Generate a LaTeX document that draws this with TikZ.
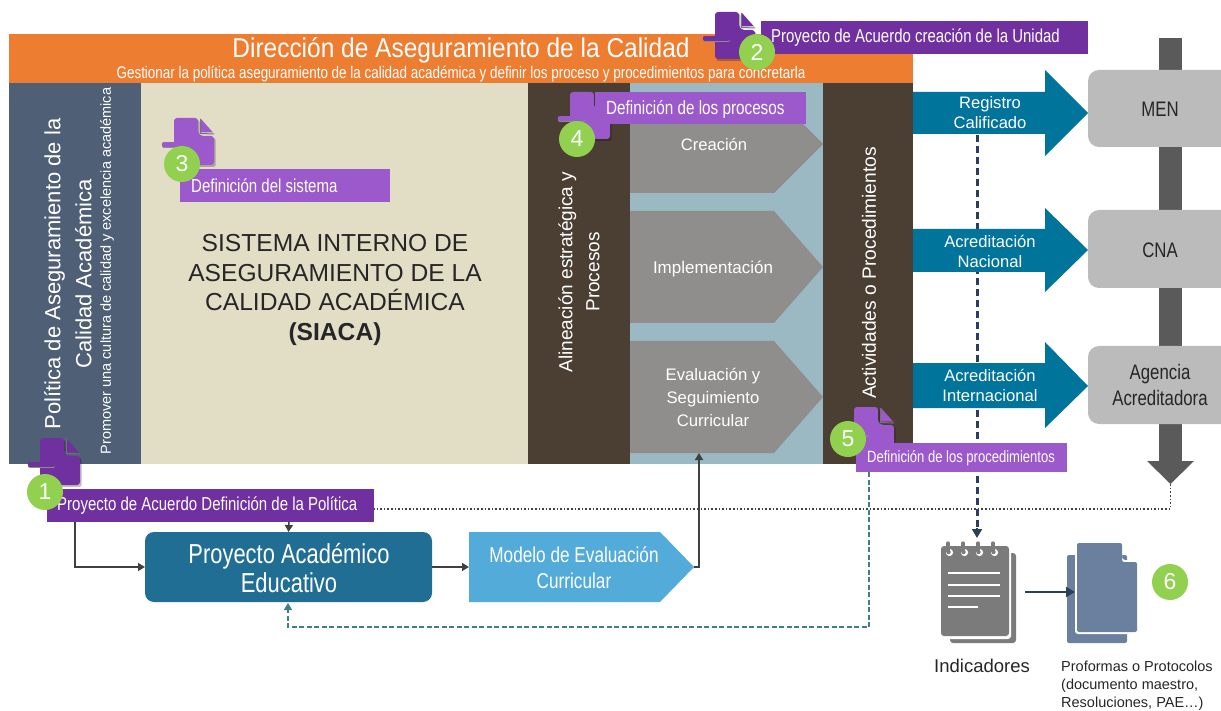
\documentclass[tikz,border=0pt]{standalone}
\usepackage{fontspec}
\setmainfont{Liberation Sans}
\newfontfamily\cond[FakeStretch=0.80]{Liberation Sans}
\newfontfamily\condb[FakeStretch=0.90]{Liberation Sans}
\usetikzlibrary{arrows.meta,calc}
\definecolor{corange}{HTML}{ED7D31}
\definecolor{cslate}{HTML}{4F5F75}
\definecolor{cbeige}{HTML}{E2DEC6}
\definecolor{cbrown}{HTML}{4B3F33}
\definecolor{clblue}{HTML}{9AB9C3}
\definecolor{cchev}{HTML}{908D8D}
\definecolor{cteal}{HTML}{00749A}
\definecolor{cgbox}{HTML}{BBBBBB}
\definecolor{cdgray}{HTML}{5A5A5A}
\definecolor{cpae}{HTML}{216E94}
\definecolor{cmod}{HTML}{52ABD8}
\definecolor{cdpur}{HTML}{7030A0}
\definecolor{clpur}{HTML}{9B59CC}
\definecolor{cgreen}{HTML}{92D050}
\definecolor{cdocb}{HTML}{6B7F9E}
\definecolor{cnote}{HTML}{7B7B7B}
\definecolor{cnavy}{HTML}{2C3E5A}
\definecolor{cline}{HTML}{404040}
\definecolor{cdteal}{HTML}{3F7F86}
\newcommand{\pxbox}[7][]{\node[#6,inner sep=0pt,outer sep=0pt,minimum width={#4-#2},minimum height={#5-#3},#1] (#7) at ({(#2+#4)/2},{(#3+#5)/2}) {};}
\newcommand{\fs}[1]{\fontsize{#1}{#1}\selectfont}
\tikzset{
  x=1pt,y=-1pt,
  band/.style={fill=#1,draw=none},
  lbl/.style={text=white,inner sep=0pt,align=center},
  plain/.style={text=black!85,inner sep=0pt,align=center},
  numdot/.style={circle,fill=cgreen,minimum size=36pt,inner sep=0pt,text=white,font=\fs{23}},
  conn/.style={draw=cline,line width=1.5pt,-{Triangle[length=7pt,width=8pt]}},
  dotline/.style={draw=cline,line width=1.6pt,dotted},
  dashteal/.style={draw=cdteal,line width=1.5pt,dash pattern=on 5pt off 2.5pt,-{Triangle[length=7pt,width=8pt]}},
  dashnavy/.style={draw=cnavy,line width=3pt,dash pattern=on 7pt off 4pt},
  docicon/.pic={
    \fill[black,opacity=.25,shift={(1.5,2)},rounded corners=2pt] (0,0)--(24,0)--(24,18)--(40,18)--(40,47)--(0,47)--cycle;
    \fill[#1,rounded corners=3pt] (0,0)--(24,0)--(24,15)--(27,18)--(40,18)--(40,47)--(0,47)--cycle;
    \draw[black!55,line width=1pt] (26.5,1)--(26.5,15.5)--(40,16);
    \fill[#1] (27,1)--(39,14.5)--(27,14.5)--cycle;
    \draw[black!45,line width=4pt,line cap=round] (-10,28)--(13,28);
    \draw[#1,line width=4.5pt,line cap=round] (-10,26.5)--(13,26.5);
  },
}
\begin{document}
\begin{tikzpicture}
\useasboundingbox (0,0) rectangle (1221,711);
\fill[white] (0,0) rectangle (1221,711);

% connectors lying under everything
\coordinate (dashtop) at (977,135);
\coordinate (notetop) at (977,538);
\draw[dashnavy] (dashtop)--(977,530);
\draw[draw=cnavy,-{Triangle[length=9pt,width=10pt]},line width=2pt] (977,528)--(notetop);

% vertical bar
\coordinate (bartop) at (1170.5,38);
\coordinate (barend) at (1170.5,461);
\coordinate (bartip) at (1170.5,484);
\fill[cdgray] (1159,38) rectangle (1182,462);
\fill[cdgray] (1147,461)--(1194,461)--(bartip)--cycle;

% main panels
\pxbox{9}{34}{913}{83}{band=corange}{head}
\pxbox{9}{83}{141}{464}{band=cslate}{polbox}
\pxbox{141}{83}{528}{464}{band=cbeige}{siaca}
\pxbox{528}{83}{630}{464}{band=cbrown}{aline}
\pxbox{630}{83}{823}{464}{band=clblue}{procs}
\pxbox{823}{83}{913}{464}{band=cbrown}{activ}

\node[lbl,font=\condb\fs{27.2}] (headt) at (461,50) {Dirección de Aseguramiento de la Calidad};
\node[lbl,font=\cond\fs{16.8}] (heads) at (461,74) {Gestionar la política aseguramiento de la calidad académica y definir los proceso y procedimientos para  concretarla};

\node[lbl,rotate=90,font=\fontsize{22}{31}\selectfont] (polt) at (68,274) {Política de Aseguramiento de la\\Calidad Académica};
\node[lbl,rotate=90,font=\fs{14.5}] (pols) at (107,271) {Promover una cultura de calidad y excelencia académica};

\node[plain,font=\fontsize{24.6}{29.7}\selectfont] (siacat) at (335,290) {SISTEMA INTERNO DE\\ASEGURAMIENTO DE LA\\CALIDAD ACADÉMICA\\\textbf{(SIACA)}};

\node[lbl,rotate=90,font=\fontsize{19}{27}\selectfont] (alinet) at (579,272) {Alineación estratégica y\\Procesos};
\node[lbl,rotate=90,font=\fs{19.2}] (activt) at (869,273) {Actividades o Procedimientos};

% chevrons
\fill[cchev] (630,95)--(774,95)--(823,144)--(774,193)--(630,193)--cycle;
\fill[cchev] (630,211)--(774,211)--(823,267)--(774,323)--(630,323)--cycle;
\fill[cchev] (630,341)--(774,341)--(823,397)--(774,453)--(630,453)--cycle;
\node[lbl,font=\fs{16.6}] (c1) at (714,144.5) {Creación};
\node[lbl,font=\fs{17}] (c2) at (713,269) {Implementación};
\node[lbl,font=\fontsize{16.7}{23}\selectfont] (c3) at (713,397) {Evaluación y\\Seguimiento\\Curricular};

% teal arrows
\fill[cteal] (913,92)--(1045,92)--(1045,70)--(1088,113)--(1045,156)--(1045,134)--(913,134)--cycle;
\fill[cteal] (913,229)--(1045,229)--(1045,208)--(1088,250)--(1045,292)--(1045,272)--(913,272)--cycle;
\fill[cteal] (913,363)--(1045,363)--(1045,342)--(1088,386)--(1045,428)--(1045,408)--(913,408)--cycle;
\node[lbl,font=\fontsize{16.6}{20}\selectfont] (a1) at (990,113) {Registro\\Calificado};
\node[lbl,font=\fontsize{16.6}{20}\selectfont] (a2) at (990,251) {Acreditación\\Nacional};
\node[lbl,font=\fontsize{16.6}{20}\selectfont] (a3) at (990,385) {Acreditación\\Internacional};

% grey boxes
\pxbox[rounded corners=11pt]{1088}{70}{1240}{147}{band=cgbox}{men}
\pxbox[rounded corners=11pt]{1088}{210}{1240}{288}{band=cgbox}{cna}
\pxbox[rounded corners=11pt]{1088}{346}{1240}{424}{band=cgbox}{agen}
\node[plain,font=\cond\fs{21}] (ment) at (1160,109) {MEN};
\node[plain,font=\cond\fs{21}] (cnat) at (1160,250) {CNA};
\node[plain,font=\cond\fontsize{21}{26}\selectfont] (agent) at (1160,385) {Agencia\\Acreditadora};

% lower connectors
\pxbox[rounded corners=9pt]{145}{532}{432}{602}{band=cpae}{pae}
\fill[cmod] (469,532)--(660,532)--(694,567)--(660,602)--(469,602)--cycle;
\coordinate (modw) at (469,567);
\coordinate (mode) at (694,567);
\coordinate (proctip) at (699,453);
\coordinate (polbar) at (75,522);
\coordinate (polbard) at (289,522);
\coordinate (dotstart) at (373,509);
\coordinate (tealstart) at (869,472);
\coordinate (tealturn) at (869,627);
\coordinate (paebot) at (288,603);
\draw[conn] (polbar)|-(pae.west);
\draw[conn] (polbard)--(pae.north);
\draw[conn] (pae.east)--(modw);
\draw[conn] (mode)-|(proctip);
\draw[dotline] (dotstart)-|(bartip);
\draw[dashteal] (tealstart)--(tealturn)-|(paebot);

\node[lbl,font=\cond\fontsize{27.4}{29}\selectfont] (paet) at (289,568) {Proyecto Académico\\Educativo};
\node[lbl,font=\cond\fontsize{21.5}{26}\selectfont] (modt) at (574,568) {Modelo de Evaluación\\Curricular};

% purple labels and icons
\pic at (40,438) {docicon=cdpur};
\pxbox{47}{489}{374}{522}{band=cdpur}{b1}
\node[lbl,anchor=west,font=\cond\fs{18.75}] (b1t) at (57,506) {Proyecto de Acuerdo Definición de la Política};
\node[numdot] (n1) at (45,492) {1};

\pic at (715,12) {docicon=cdpur};
\pxbox{761}{21}{1088}{54}{band=cdpur}{b2}
\node[lbl,anchor=west,font=\cond\fs{18.7}] (b2t) at (771,38) {Proyecto de Acuerdo creación de la Unidad};
\node[numdot] (n2) at (757,52) {2};

\pic at (174,118) {docicon=clpur};
\pxbox{180}{169}{390}{202}{band=clpur}{b3}
\node[lbl,anchor=west,font=\cond\fs{18.8}] (b3t) at (191,186) {Definición del sistema};
\node[numdot] (n3) at (182,164) {3};

\pic at (570,92) {docicon=clpur};
\pxbox{595}{92}{806}{124}{band=clpur}{b4}
\node[lbl,anchor=west,font=\cond\fs{19.1}] (b4t) at (606,109) {Definición de los procesos};
\node[numdot] (n4) at (577,139) {4};

\pic at (854,407) {docicon=clpur};
\pxbox{856}{443}{1067}{472}{band=clpur}{b5}
\node[lbl,anchor=west,font=\cond\fs{16.3}] (b5t) at (867,458) {Definición de los procedimientos};
\node[numdot] (n5) at (848,439) {5};

% notebook
\fill[cnote,rounded corners=3pt] (950,553) rectangle (1016,643);
\fill[white,rounded corners=3pt] (939,544) rectangle (1011,639);
\fill[cnote,rounded corners=3pt] (941,546) rectangle (1009,636);
\foreach \xx in {948,963,978,993}{
  \fill[white] (\xx+1.5,552.5) circle[radius=3.6pt];
  \fill[cnote] (\xx+.5,552) circle[radius=2.2pt];
  \draw[cnote,line width=3.2pt,line cap=round] (\xx,543)--(\xx,551);
}
\draw[white,line width=1.6pt] (948,573)--(1000,573) (948,585)--(1000,585) (948,596)--(1000,596) (948,607)--(978,607);

% documents
\fill[cdocb,rounded corners=2pt] (1067,555) rectangle (1127,643);
\fill[white,rounded corners=3pt] (1075,541)--(1122,541)--(1122,560)--(1139,560)--(1139,634)--(1075,634)--cycle;
\fill[cdocb,rounded corners=2pt] (1077,543)--(1122,543)--(1122,562)--(1137,562)--(1137,632)--(1077,632)--cycle;
\coordinate (nbarrow) at (1025,592);
\coordinate (docarrow) at (1075,592);
\draw[draw=cnavy,line width=2.2pt,-{Triangle[length=9pt,width=10pt]}] (nbarrow)--(docarrow);
\node[numdot] (n6) at (1170,582) {6};

\node[plain,font=\fs{18.5}] (indt) at (982,666) {Indicadores};
\node[plain,anchor=north west,align=left,font=\fontsize{14.5}{18}\selectfont] (prot) at (1061,661) {Proformas o Protocolos\\(documento maestro,\\Resoluciones, PAE…)};
\end{tikzpicture}
\end{document}
